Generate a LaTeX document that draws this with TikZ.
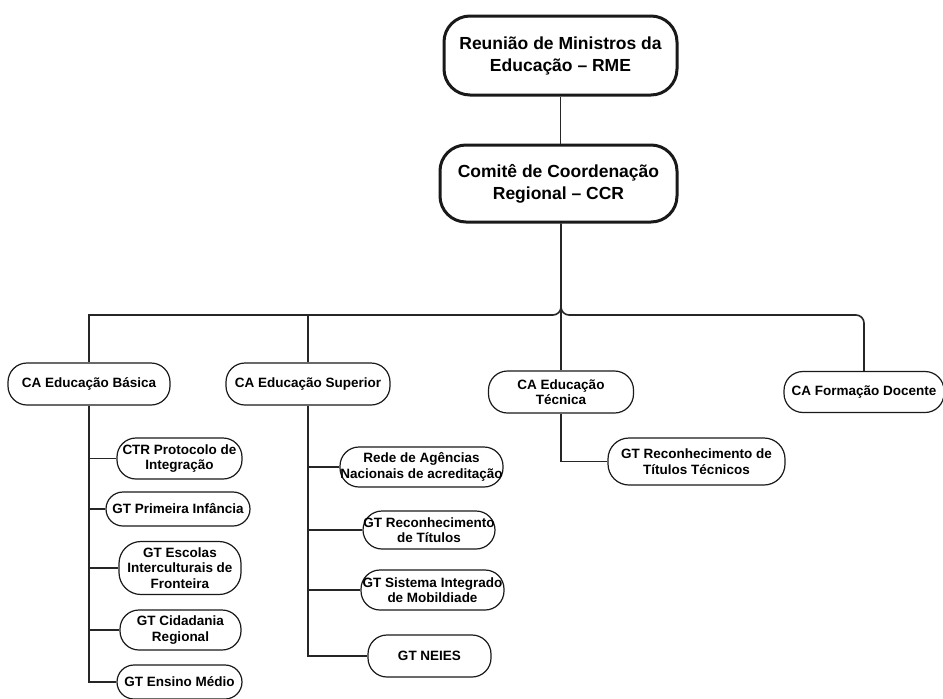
\documentclass[tikz,border=0pt]{standalone}
\usepackage{fontspec}
\setmainfont{Liberation Sans}
\begin{document}
\begin{tikzpicture}[x=1pt,y=-1pt,
  bigbox/.style={draw=black!90, line width=3pt, rounded corners=26pt, align=center, inner sep=0pt,
    font=\fontsize{17.5}{22}\selectfont\bfseries},
  smallbox/.style={draw=black!90, line width=1.2pt, rounded corners=19pt, align=center, inner sep=0pt,
    font=\fontsize{13.5}{15.5}\selectfont\bfseries},
  conn/.style={draw=black!85, line width=1.6pt}]
\useasboundingbox[fill=white] (0,0) rectangle (943,699);
% top
\node[bigbox, minimum width=233pt, minimum height=79pt] (rme) at (560.5,55.5) {Reunião de Ministros da\\Educação – RME};
\node[bigbox, minimum width=237pt, minimum height=77pt] (ccr) at (558.5,183.5) {Comitê de Coordenação\\Regional – CCR};
% CA level
\node[smallbox, minimum width=162pt, minimum height=42pt] (basica) at (89,384) {CA Educação Básica};
\node[smallbox, minimum width=164pt, minimum height=42pt] (superior) at (308,384) {CA Educação Superior};
\node[smallbox, minimum width=145pt, minimum height=42pt] (tecnica) at (561,392) {CA Educação\\Técnica};
\node[smallbox, minimum width=160pt, minimum height=41pt] (docente) at (864,392) {CA Formação Docente};
% left column
\node[smallbox, minimum width=125pt, minimum height=41pt] (ctr) at (179.5,458.5) {CTR Protocolo de\\Integração};
\node[smallbox, minimum width=144pt, minimum height=34pt, rounded corners=17pt] (prim) at (178,509) {GT Primeira Infância};
\node[smallbox, minimum width=122pt, minimum height=53pt, rounded corners=22pt] (esc) at (180,568) {GT Escolas\\Interculturais de\\Fronteira};
\node[smallbox, minimum width=121pt, minimum height=40pt] (cid) at (180.5,630) {GT Cidadania\\Regional};
\node[smallbox, minimum width=125pt, minimum height=34pt, rounded corners=17pt] (med) at (179.5,682) {GT Ensino Médio};
% middle column
\node[smallbox, minimum width=163pt, minimum height=40pt] (rede) at (421.5,467) {Rede de Agências\\Nacionais de acreditação};
\node[smallbox, minimum width=132pt, minimum height=38pt] (recon) at (429,530) {GT Reconhecimento\\de Títulos};
\node[smallbox, minimum width=143pt, minimum height=40pt] (sist) at (432.5,590) {GT Sistema Integrado\\de Mobildiade};
\node[smallbox, minimum width=123pt, minimum height=42pt] (neies) at (429.5,656) {GT NEIES};
% right
\node[smallbox, minimum width=177pt, minimum height=47pt, rounded corners=21pt] (tecgt) at (696.5,461.5) {GT Reconhecimento de\\Títulos Técnicos};
% connectors
\coordinate (j) at (561,315);
\draw[conn] (rme.south) -- (rme.south |- ccr.north);
\draw[conn, rounded corners=8pt] (ccr.south -| j) -- (j) -- (superior.north |- j);
\draw[conn] (superior.north |- j) -| (basica.north);
\draw[conn] (superior.north |- j) -- (superior.north);
\draw[conn, rounded corners=8pt] (ccr.south -| j) -- (j) -| (docente.north);
\draw[conn] (ccr.south -| j) -- (tecnica.north -| j);
% left branches
\draw[conn] (basica.south) |- (med.west);
\draw[conn] (basica.south |- ctr.west) -- (ctr.west);
\draw[conn] (basica.south |- prim.west) -- (prim.west);
\draw[conn] (basica.south |- esc.west) -- (esc.west);
\draw[conn] (basica.south |- cid.west) -- (cid.west);
% middle branches
\draw[conn] (superior.south) |- (neies.west);
\draw[conn] (superior.south |- rede.west) -- (rede.west);
\draw[conn] (superior.south |- recon.west) -- (recon.west);
\draw[conn] (superior.south |- sist.west) -- (sist.west);
% right branch
\draw[conn] (tecnica.south) |- (tecgt.west);
\end{tikzpicture}
\end{document}
